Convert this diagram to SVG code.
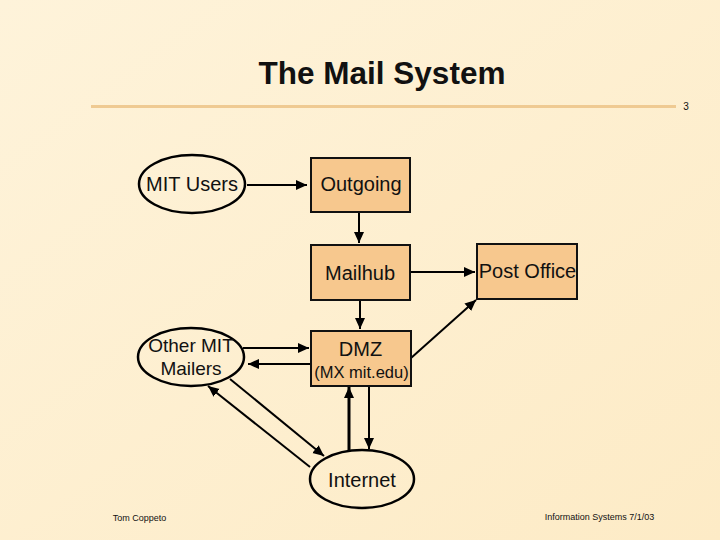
<svg xmlns="http://www.w3.org/2000/svg" width="720" height="540" viewBox="0 0 720 540">
<style>
text{font-family:"Liberation Sans",Arial,sans-serif;fill:#111;text-anchor:middle}
.l{font-size:20px}
.box{fill:#f7c88e;stroke:#111;stroke-width:2}
.ell{fill:none;stroke:#000;stroke-width:2.500}
.c line{stroke:#000;stroke-width:2;marker-end:url(#a)}
</style>
<defs>
<linearGradient id="bg" x1="0" y1="0" x2="1" y2="1"><stop offset="0" stop-color="#fef3da"/><stop offset="1" stop-color="#fdebc6"/></linearGradient>
<marker id="a" markerUnits="userSpaceOnUse" markerWidth="12" markerHeight="12" refX="11" refY="6" orient="auto"><path d="M0 1L11 6L0 11z" fill="#000"/></marker>
</defs>
<rect width="720" height="540" fill="url(#bg)"/>
<rect x="91" y="105" width="585" height="3" fill="#efca92"/>
<text x="382" y="84" font-size="31.500" font-weight="bold">The Mail System</text>
<text x="686" y="110" font-size="10">3</text>
<g class="c" id="connectors">
<line x1="247" y1="185" x2="307" y2="185"/>
<line x1="359" y1="212" x2="359" y2="243"/>
<line x1="360" y1="300" x2="360" y2="329"/>
<line x1="410" y1="272" x2="475" y2="272"/>
<line x1="411" y1="358" x2="476" y2="300"/>
<line x1="243" y1="348" x2="309" y2="348"/>
<line x1="311" y1="364" x2="248" y2="364"/>
<line x1="230" y1="379" x2="324" y2="456"/>
<line x1="310" y1="467" x2="208" y2="386"/>
<line x1="349" y1="450" x2="349" y2="387" style="stroke-width:3"/>
<line x1="369" y1="386" x2="369" y2="449"/>
</g>
<g id="mit-users"><ellipse class="ell" cx="192" cy="184" rx="53" ry="29"/><text class="l" x="192" y="191">MIT Users</text></g>
<g id="outgoing"><rect class="box" x="311" y="158" width="99" height="54"/><text class="l" x="361" y="191">Outgoing</text></g>
<g id="mailhub"><rect class="box" x="311" y="245" width="99" height="55"/><text class="l" x="360" y="280">Mailhub</text></g>
<g id="post-office"><rect class="box" x="477" y="244" width="100" height="55"/><text class="l" x="527.500" y="278">Post Office</text></g>
<g id="other-mit"><ellipse class="ell" cx="191" cy="357" rx="53" ry="29"/><text x="191" y="352" font-size="19">Other MIT</text><text x="191" y="375" font-size="19">Mailers</text></g>
<g id="dmz"><rect class="box" x="311" y="331" width="100" height="55"/><text class="l" x="360.500" y="356">DMZ</text><text x="361.500" y="378" font-size="16.500">(MX mit.edu)</text></g>
<g id="internet"><ellipse class="ell" cx="362" cy="479" rx="52" ry="29"/><text class="l" x="362" y="487">Internet</text></g>
<text x="139.500" y="521" font-size="9">Tom Coppeto</text>
<text x="599.500" y="520" font-size="9">Information Systems 7/1/03</text>
</svg>
